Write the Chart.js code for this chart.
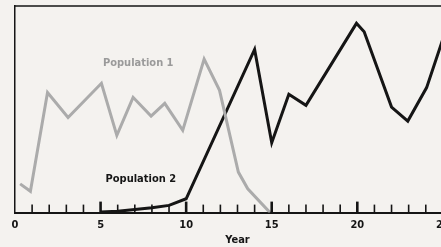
<!DOCTYPE html>
<html>
<head>
<meta charset="utf-8">
<script src="https://cdn.jsdelivr.net/npm/chart.js@4/dist/chart.umd.min.js"></script>
<style>
  html, body { margin: 0; padding: 0; background: #f4f2ef; overflow: hidden; }
  #wrap { width: 462px; height: 247px; }
</style>
</head>
<body>
<div id="wrap"><canvas id="myChart"></canvas></div>
<script>
const pop1Years = [0.3, 0.9, 1.9, 3.1, 5.05, 5.95, 6.9, 7.95, 8.75, 9.8, 11.05, 11.95, 13.05, 13.6, 14.9];
const pop1Values = [13.9, 10.3, 58.1, 46, 62.6, 37.4, 55.8, 46.7, 52.9, 39.8, 74.3, 59.2, 19.6, 11.5, 0];

const pop2Years = [5, 6, 7, 8, 9, 10, 14, 15, 16, 17, 19.95, 20.4, 22, 22.95, 24.05, 25, 25.6];
const pop2Values = [0.3, 0.6, 1.5, 2.4, 3.5, 6.7, 79, 33.8, 57.3, 51.9, 91.6, 87.5, 51.1, 44.3, 60.5, 84, 97];

const yearTicks = [0, 5, 10, 15, 20, 25];

const seriesLabels = ['Population 1', 'Population 2'];
const labelYears = [7.2, 7.35];
const labelValues = [72.2, 16];

const grey = '#ababab';
const ink = '#151515';
const font = '"Liberation Sans Narrow", "DejaVu Sans Condensed", sans-serif';

const toPoints = (xs, ys) => xs.map((x, i) => ({ x: x, y: ys[i] }));

// tick marks pointing up into the plot, plus top border and series names
const extras = {
   id: 'extras',
   afterDatasetsDraw(chart) {
      const { ctx, chartArea, scales } = chart;
      const x = scales.x;
      const y = scales.y;
      ctx.save();
      ctx.strokeStyle = ink;
      for (let yr = 1; yr <= Math.floor(x.max); yr++) {
         const major = yr % 5 === 0;
         const px = x.getPixelForValue(yr);
         ctx.lineWidth = major ? 2.6 : 1.6;
         ctx.beginPath();
         ctx.moveTo(px, chartArea.bottom);
         ctx.lineTo(px, chartArea.bottom - (major ? 11 : 8));
         ctx.stroke();
      }
      ctx.lineWidth = 1.5;
      ctx.beginPath();
      ctx.moveTo(chartArea.left, chartArea.top);
      ctx.lineTo(chartArea.right, chartArea.top);
      ctx.stroke();

      ctx.font = 'bold 11px ' + font;
      ctx.textAlign = 'center';
      ctx.textBaseline = 'middle';
      seriesLabels.forEach((t, i) => {
         ctx.fillStyle = i === 0 ? '#9a9a9a' : ink;
         ctx.fillText(t, x.getPixelForValue(labelYears[i]), y.getPixelForValue(labelValues[i]));
      });
      ctx.restore();
   },
};

const data = {
   datasets: [
      {
         label: seriesLabels[0],
         data: toPoints(pop1Years, pop1Values),
         borderColor: grey,
         borderWidth: 3,
         pointRadius: 0,
         tension: 0,
      },
      {
         label: seriesLabels[1],
         data: toPoints(pop2Years, pop2Values),
         borderColor: ink,
         borderWidth: 3,
         pointRadius: 0,
         tension: 0,
      },
   ],
};

const config = {
   type: 'line',
   data: data,
   options: {
      animation: false,
      responsive: true,
      maintainAspectRatio: false,
      layout: { padding: { left: 15, top: 6, right: 2, bottom: 0 } },
      plugins: {
         legend: { display: false },
         tooltip: { enabled: false },
      },
      scales: {
         x: {
            type: 'linear',
            min: 0,
            max: 26,
            afterBuildTicks: axis => {
               axis.ticks = yearTicks.map(v => ({ value: v }));
            },
            grid: { display: false, drawTicks: false },
            border: { color: ink, width: 2 },
            ticks: {
               padding: 6,
               autoSkip: false,
               color: ink,
               font: { family: font, weight: 'bold', size: 11 },
               maxRotation: 0,
            },
            title: {
               display: true,
               text: 'Year',
               color: ink,
               padding: { top: -4, bottom: 0 },
               font: { family: font, weight: 'bold', size: 11 },
            },
         },
         y: {
            min: 0,
            max: 100,
            grid: { display: false, drawTicks: false },
            border: { color: ink, width: 1.5 },
            ticks: { display: false },
         },
      },
   },
   plugins: [extras],
};
const myChart = new Chart(document.getElementById('myChart'), config);
</script>
</body>
</html>
